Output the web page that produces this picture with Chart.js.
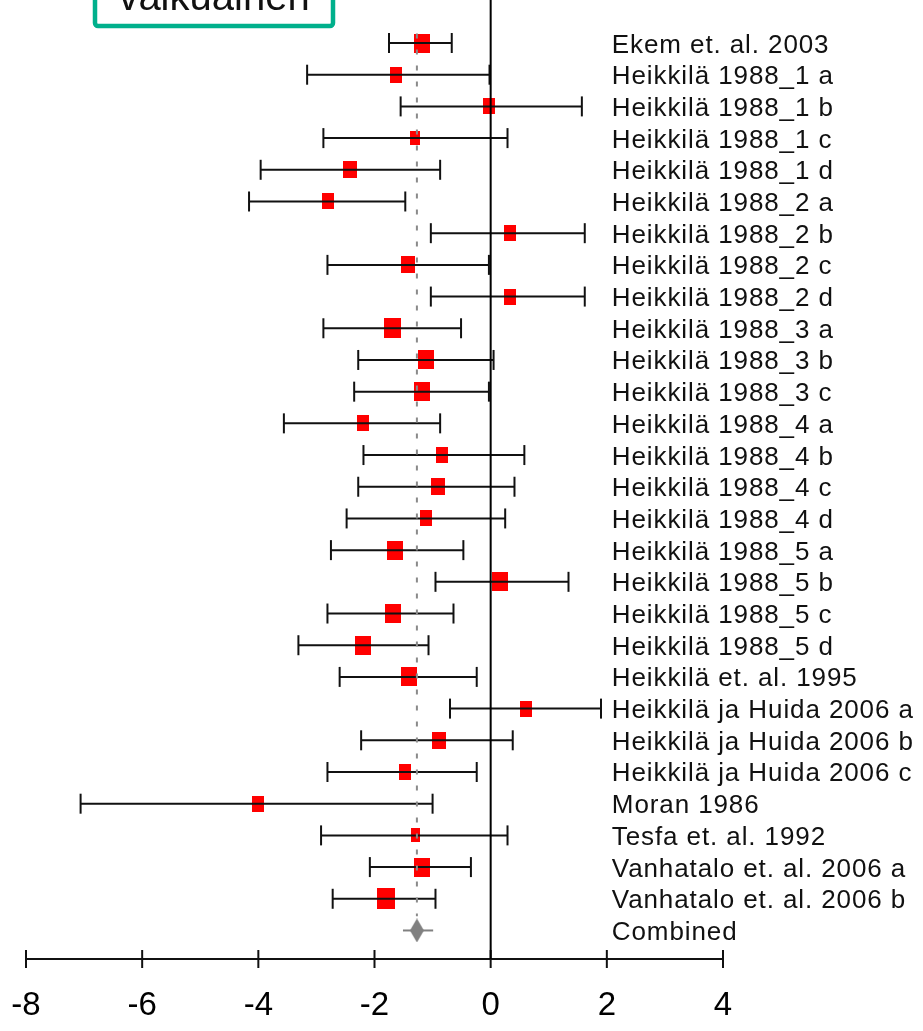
<!DOCTYPE html>
<html><head><meta charset="utf-8">
<script src="https://cdn.jsdelivr.net/npm/chart.js@4.4.1/dist/chart.umd.min.js"></script>
<style>html,body{margin:0;padding:0;background:#fff;overflow:hidden}#wrap{width:923px;height:1031px;position:relative}</style>
</head><body><div id="wrap"><canvas id="c" width="923" height="1031"></canvas></div>
<script>
const studies = [
  'Ekem et. al. 2003','Heikkilä 1988_1 a','Heikkilä 1988_1 b','Heikkilä 1988_1 c','Heikkilä 1988_1 d',
  'Heikkilä 1988_2 a','Heikkilä 1988_2 b','Heikkilä 1988_2 c','Heikkilä 1988_2 d',
  'Heikkilä 1988_3 a','Heikkilä 1988_3 b','Heikkilä 1988_3 c',
  'Heikkilä 1988_4 a','Heikkilä 1988_4 b','Heikkilä 1988_4 c','Heikkilä 1988_4 d',
  'Heikkilä 1988_5 a','Heikkilä 1988_5 b','Heikkilä 1988_5 c','Heikkilä 1988_5 d',
  'Heikkilä et. al. 1995','Heikkilä ja Huida 2006 a','Heikkilä ja Huida 2006 b','Heikkilä ja Huida 2006 c',
  'Moran 1986','Tesfa et. al. 1992','Vanhatalo et. al. 2006 a','Vanhatalo et. al. 2006 b'
];
const means = [-1.19,-1.63,-0.03,-1.30,-2.42,-2.80,0.33,-1.42,0.33,-1.69,-1.11,-1.19,-2.20,-0.84,-0.90,-1.12,-1.64,0.16,-1.68,-2.19,-1.40,0.61,-0.89,-1.48,-4.00,-1.30,-1.19,-1.81];
const lows  = [-1.75,-3.16,-1.55,-2.88,-3.96,-4.16,-1.03,-2.81,-1.03,-2.88,-2.28,-2.35,-3.56,-2.19,-2.28,-2.48,-2.75,-0.95,-2.81,-3.31,-2.60,-0.70,-2.23,-2.81,-7.06,-2.92,-2.08,-2.72];
const highs = [-0.67,-0.02,1.57,0.29,-0.87,-1.47,1.62,-0.03,1.62,-0.51,0.05,-0.03,-0.87,0.58,0.41,0.25,-0.47,1.34,-0.64,-1.07,-0.24,1.90,0.38,-0.24,-1.00,0.29,-0.34,-0.95];
const weights = [3.9,2.9,3.0,2.4,3.45,2.9,2.9,3.45,2.9,4.2,3.9,4.0,2.9,3.0,3.45,2.9,4.0,4.1,4.0,4.0,4.0,2.9,3.45,2.9,2.9,2.3,4.0,4.6];
const combinedLabel = 'Combined';
const combinedMean = -1.27;
const combinedLow = -1.51;
const combinedHigh = -0.99;
const xTicks = [-8,-6,-4,-2,0,2,4];
const titleText = 'vaikuainen';

const N = studies.length;
const Y_MIN = -1.357, Y_MAX = 28.9;

function rectCanvas(w, h, color) {
  const c = document.createElement('canvas');
  c.width = Math.round(w); c.height = Math.round(h);
  const g = c.getContext('2d');
  g.fillStyle = color; g.fillRect(0, 0, c.width, c.height);
  return c;
}
function diamondCanvas(w, h, color) {
  const c = document.createElement('canvas');
  c.width = w; c.height = h;
  const g = c.getContext('2d');
  g.fillStyle = color;
  g.beginPath();
  g.moveTo(w/2, 0); g.lineTo(w, h/2); g.lineTo(w/2, h); g.lineTo(0, h/2); g.closePath();
  g.fill();
  return c;
}
const squareImgs = weights.map(wt => { const w = wt * 4; return rectCanvas(w, w * 0.75 + 7, '#ff0000'); });
const diamondImg = diamondCanvas(14, 24, '#808080');

const ciData = [];
for (let i = 0; i < N; i++) {
  ciData.push({x: lows[i], y: i}, {x: highs[i], y: i}, {x: highs[i], y: null});
}

const textPlugin = {
  id: 'texts',
  afterDraw(chart) {
    const ctx = chart.ctx, xs = chart.scales.x, ys = chart.scales.y;
    ctx.save();
    ctx.fillStyle = '#111';
    ctx.font = '26px "Liberation Sans", Arial, sans-serif';
    if ('letterSpacing' in ctx) ctx.letterSpacing = '0.9px';
    ctx.textAlign = 'left';
    ctx.textBaseline = 'alphabetic';
    const lx = xs.getPixelForValue(2) + 5;
    const all = studies.concat([combinedLabel]);
    all.forEach((s, i) => { ctx.fillText(s, lx, ys.getPixelForValue(i) + 9.5); });
    if ('letterSpacing' in ctx) ctx.letterSpacing = '0px';
    // title box
    ctx.strokeStyle = '#00B08C';
    ctx.lineWidth = 4.5;
    ctx.beginPath();
    if (ctx.roundRect) ctx.roundRect(95, -10, 238, 36, 3); else ctx.rect(95, -10, 238, 36);
    ctx.stroke();
    ctx.fillStyle = '#111';
    ctx.font = '40px "Liberation Sans", Arial, sans-serif';
    ctx.textAlign = 'center';
    ctx.fillText(titleText, 214, 10);
    ctx.restore();
  }
};

new Chart(document.getElementById('c'), {
  type: 'scatter',
  data: {
    datasets: [
      { data: [{x: 0, y: Y_MIN}, {x: 0, y: Y_MAX}], showLine: true, borderColor: '#000', borderWidth: 2, pointRadius: 0, clip: false },
      { data: [{x: combinedMean, y: -0.3}, {x: combinedMean, y: 27.55}], showLine: true, borderColor: '#8a8a8a', borderWidth: 2, borderDash: [5, 11], pointRadius: 0 },
      { data: ciData, showLine: true, spanGaps: false, borderColor: '#111', borderWidth: 2,
        pointStyle: 'line', rotation: 90, pointRadius: 10, pointBorderWidth: 2, pointBorderColor: '#111', pointBackgroundColor: '#111' },
      { data: [{x: combinedLow, y: N}, {x: combinedHigh, y: N}], showLine: true, borderColor: '#808080', borderWidth: 2, pointRadius: 0 },
      { data: means.map((m, i) => ({x: m, y: i})), pointStyle: ctx => squareImgs[ctx.dataIndex], pointRadius: 5 },
      { data: [{x: combinedMean, y: N}], pointStyle: diamondImg, pointRadius: 5 },
      { data: xTicks.map(v => ({x: v, y: Y_MAX})), showLine: true, borderColor: '#111', borderWidth: 2, clip: false,
        pointStyle: 'line', rotation: 90, pointRadius: 9, pointBorderWidth: 2, pointBorderColor: '#111' }
    ]
  },
  options: {
    responsive: false,
    animation: false,
    events: [],
    devicePixelRatio: 1,
    layout: { autoPadding: false, padding: { left: 26, right: 200, top: 0, bottom: 0 } },
    plugins: { legend: { display: false }, tooltip: { enabled: false } },
    scales: {
      x: {
        type: 'linear', min: -8, max: 4,
        afterBuildTicks: s => { s.ticks = xTicks.map(v => ({value: v})); },
        afterFit: s => { s.height = 72; s.paddingLeft = 0; s.paddingRight = 0; s.paddingTop = 0; s.paddingBottom = 0; },
        grid: { display: false, drawTicks: false },
        border: { display: false },
        ticks: { color: '#000', padding: 27, font: { family: '"Liberation Sans", Arial, sans-serif', size: 33 } }
      },
      y: {
        type: 'linear', reverse: true, min: Y_MIN, max: Y_MAX, display: false,
        ticks: { display: false },
        afterFit: s => { s.width = 0; s.paddingLeft = 0; s.paddingRight = 0; s.paddingTop = 0; s.paddingBottom = 0; }
      }
    }
  },
  plugins: [textPlugin]
});
</script></body></html>
